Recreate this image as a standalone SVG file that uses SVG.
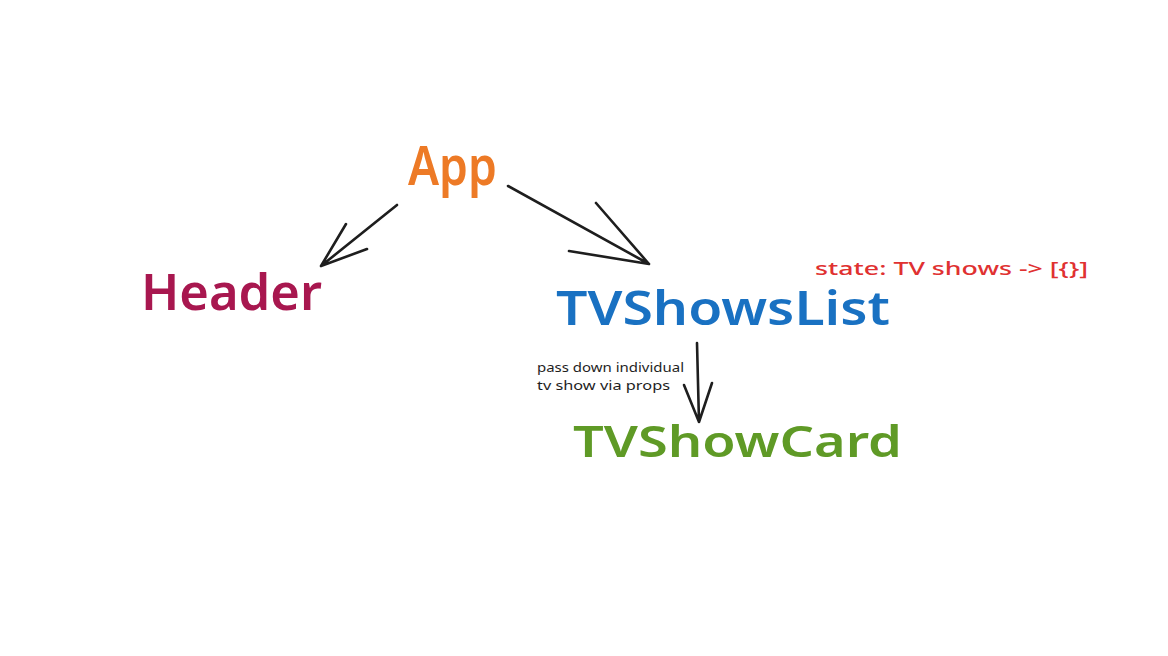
<svg xmlns="http://www.w3.org/2000/svg" width="1168" height="656" viewBox="0 0 1168 656">
<style>
.t{font-family:"Noto Sans","Liberation Sans",sans-serif;}
.b{font-weight:600;}
.arr{fill:none;stroke:#1e1e1e;stroke-width:2.6;stroke-linecap:round;stroke-linejoin:round;}
</style>
<rect width="1168" height="656" fill="#ffffff"/>
<g id="connectors">
<path class="arr" d="M397,205 L321,266 M346,224 L321,266 L367,249"/>
<path class="arr" d="M508,186 L649,264 M596,203 L649,264 L569,251"/>
<path class="arr" d="M697,343 L699,422 M684,385 L699,422 L712,383"/>
</g>
<g id="app"><text class="t b" x="408" y="185" font-size="54" fill="#ed7a26" textLength="89" lengthAdjust="spacingAndGlyphs">App</text></g>
<g id="header"><text class="t b" x="141" y="310" font-size="51" fill="#a8174f" textLength="181" lengthAdjust="spacingAndGlyphs">Header</text></g>
<g id="tvshowslist"><text class="t b" x="556" y="325" font-size="46" fill="#1971c2" textLength="334" lengthAdjust="spacingAndGlyphs">TVShowsList</text></g>
<g id="state"><text class="t" x="815" y="275" font-size="18" fill="#e03131" font-weight="500" textLength="273" lengthAdjust="spacingAndGlyphs">state: TV shows -&gt; [{}]</text></g>
<g id="tvshowcard"><text class="t b" x="573" y="457" font-size="44" fill="#5f9a26" textLength="329" lengthAdjust="spacingAndGlyphs">TVShowCard</text></g>
<g id="note">
<text class="t" x="537" y="372" font-size="13" fill="#1e1e1e" textLength="147" lengthAdjust="spacingAndGlyphs">pass down individual</text>
<text class="t" x="537" y="390" font-size="13" fill="#1e1e1e" textLength="133" lengthAdjust="spacingAndGlyphs">tv show via props</text>
</g>
</svg>
